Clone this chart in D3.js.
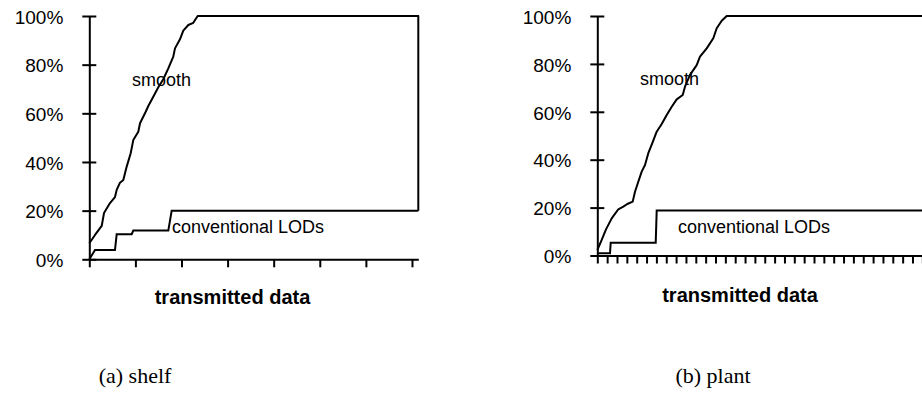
<!DOCTYPE html>
<html>
<head>
<meta charset="utf-8">
<script src="https://cdn.jsdelivr.net/npm/d3@7"></script>
<style>
  html, body { margin: 0; padding: 0; background: #fff; }
  svg { display: block; }
  text { font-family: Arial, "Liberation Sans", sans-serif; fill: #000; }
</style>
</head>
<body>
<svg id="chart" width="922" height="401"></svg>
<script>
// ---- data (x in units of x-axis tick intervals, y in percent) ----
const yTickValues = [0, 20, 40, 60, 80, 100];
const yTickLabels = ["0%", "20%", "40%", "60%", "80%", "100%"];

// (a) shelf
const shelfSmoothX = [0, 0.124, 0.269, 0.319, 0.449, 0.557, 0.594, 0.666, 0.738, 0.811, 0.898, 0.954, 1.063, 1.100, 1.208, 1.280, 1.388, 1.497, 1.605, 1.714, 1.822, 1.859, 1.967, 2.039, 2.148, 2.256, 2.351, 7.137, 7.137];
const shelfSmoothY = [6.6, 10.0, 13.7, 19.0, 23.1, 25.6, 28.5, 31.5, 32.6, 38.1, 43.6, 49.0, 52.4, 55.9, 60.0, 63.0, 66.8, 70.7, 74.0, 78.5, 83.3, 86.7, 90.4, 94.0, 96.3, 97.2, 100, 100, 20];
const shelfLodX = [0, 0.124, 0.557, 0.594, 0.920, 0.954, 1.714, 1.787, 7.137];
const shelfLodY = [0, 3.8, 3.8, 10.3, 10.3, 11.8, 11.8, 20, 20];
const shelfXTicks = [0, 1, 2, 3, 4, 5, 6, 7];

// (b) plant
const plantSmoothX = [0, 0.447, 0.883, 1.462, 2.132, 2.64, 3.046, 3.594, 3.827, 4.162, 4.508, 4.843, 5.178, 5.584, 6.03, 6.538, 7.046, 7.553, 8.061, 8.67, 8.904, 9.411, 10.091, 10.426, 11.107, 11.777, 12.122, 12.63, 13.137, 34];
const plantSmoothY = [2.3, 6.5, 10.9, 15.5, 19.3, 20.4, 21.5, 22.5, 26.6, 30.8, 35.0, 37.8, 42.7, 46.9, 51.7, 54.9, 58.7, 62.1, 65.2, 67.0, 70.5, 75.4, 79.5, 83.0, 86.5, 90.7, 94.9, 98.0, 100, 100];
const plantLodX = [0, 1.29, 1.36, 5.93, 6.03, 34];
const plantLodY = [0.9, 0.9, 5.3, 5.3, 18.8, 18.8];
const plantXTicks = d3.range(0, 35);

const seriesNames = ["smooth", "conventional LODs"];
const xTitle = "transmitted data";
const captions = ["(a) shelf", "(b) plant"];

// ---- layout ----
const panels = [
  { smoothX: shelfSmoothX, smoothY: shelfSmoothY, lodX: shelfLodX, lodY: shelfLodY, xTicks: shelfXTicks,
    xDomain: [0, 7.137], xRange: [89.3, 418.3], yRange: [259.3, 16],
    smoothLabel: [132, 86], lodLabel: [172, 233], titleX: 232.5, titleY: 304, caption: captions[0], capX: 135, capY: 383 },
  { smoothX: plantSmoothX, smoothY: plantSmoothY, lodX: plantLodX, lodY: plantLodY, xTicks: plantXTicks,
    xDomain: [0, 34], xRange: [597.3, 597.3 + 34 * 9.85], yRange: [255.5, 16],
    smoothLabel: [640, 85], lodLabel: [678, 233], titleX: 740, titleY: 302, caption: captions[1], capX: 713, capY: 383 }
];

const svg = d3.select("#chart");

panels.forEach(p => {
  const x = d3.scaleLinear().domain(p.xDomain).range(p.xRange);
  const y = d3.scaleLinear().domain([0, 100]).range(p.yRange);
  const g = svg.append("g");

  // y axis
  const ya = g.append("g")
    .attr("transform", `translate(${p.xRange[0]},0)`)
    .call(d3.axisLeft(y).tickValues(yTickValues).tickFormat((d, i) => yTickLabels[i]).tickSizeOuter(0).tickSizeInner(7));
  ya.select(".domain").attr("stroke", "#000").attr("stroke-width", 2);
  ya.selectAll(".tick line").attr("x1", -7).attr("x2", 7).attr("stroke", "#000").attr("stroke-width", 2);
  ya.selectAll(".tick text").attr("x", -26).attr("dy", "0.38em")
    .style("font-size", "19px").style("font-family", "Arial, 'Liberation Sans', sans-serif");

  // x axis
  const xa = g.append("g")
    .attr("transform", `translate(0,${p.yRange[0]})`)
    .call(d3.axisBottom(x).tickValues(p.xTicks).tickFormat("").tickSizeOuter(0).tickSizeInner(8));
  xa.select(".domain").attr("stroke", "#000").attr("stroke-width", 2);
  xa.selectAll(".tick line").attr("stroke", "#000").attr("stroke-width", 2);

  const line = d3.line().x(d => x(d[0])).y(d => y(d[1]));
  const smooth = p.smoothX.map((v, i) => [v, p.smoothY[i]]);
  const lod = p.lodX.map((v, i) => [v, p.lodY[i]]);

  g.append("path").datum(lod).attr("d", line)
    .attr("fill", "none").attr("stroke", "#000").attr("stroke-width", 2).attr("stroke-linejoin", "miter");
  g.append("path").datum(smooth).attr("d", line)
    .attr("fill", "none").attr("stroke", "#000").attr("stroke-width", 2).attr("stroke-linejoin", "round");

  g.append("text").attr("x", p.smoothLabel[0]).attr("y", p.smoothLabel[1])
    .style("font-size", "18px").text(seriesNames[0]);
  g.append("text").attr("x", p.lodLabel[0]).attr("y", p.lodLabel[1])
    .style("font-size", "18px").text(seriesNames[1]);

  g.append("text").attr("x", p.titleX).attr("y", p.titleY).attr("text-anchor", "middle")
    .style("font-size", "20px").style("font-weight", "bold").text(xTitle);

  g.append("text").attr("x", p.capX).attr("y", p.capY).attr("text-anchor", "middle")
    .style("font-family", "'Times New Roman', 'Liberation Serif', serif").style("font-size", "22px").text(p.caption);
});
</script>
</body>
</html>
